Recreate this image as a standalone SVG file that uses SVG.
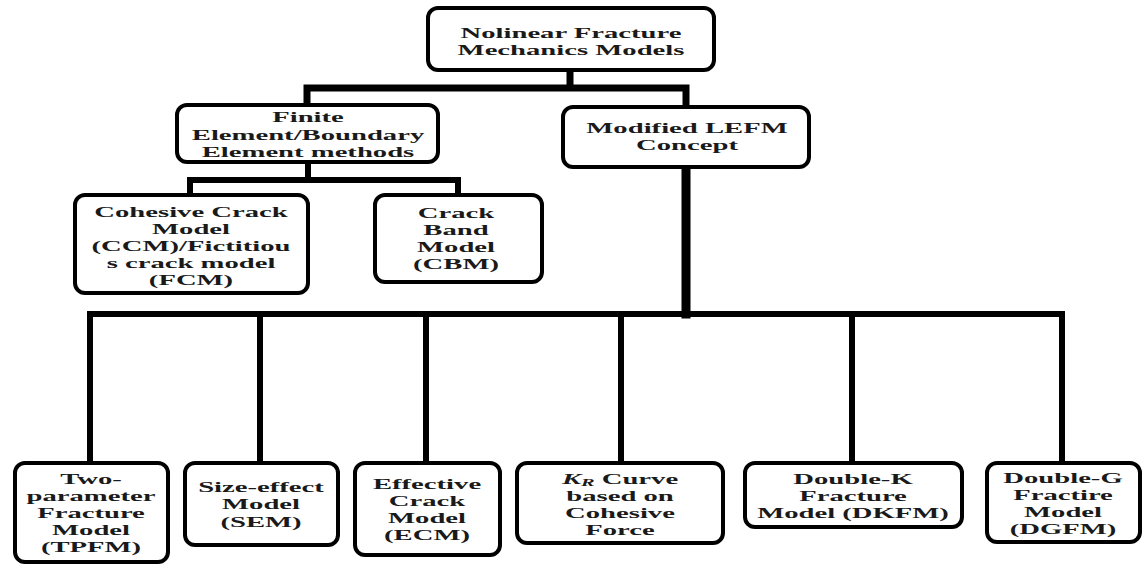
<svg xmlns="http://www.w3.org/2000/svg" width="1145" height="564" viewBox="0 0 1145 564">
<style>
.box{fill:#fff;stroke:#000;stroke-width:4}
.t{font-family:"Liberation Serif","Times New Roman",serif;font-weight:bold;font-size:15.5px;fill:#1a1a1a;text-anchor:middle}
.c{stroke:#000;fill:none;stroke-linecap:square}
</style>
<rect width="1145" height="564" fill="#fff"/>
<g id="connectors">
<path class="c" stroke-width="7" d="M570 70V88M307 88H686M307 88V105M686 88V107"/>
<path class="c" stroke-width="6" d="M308 162V180M190 180H458M190 180V195M458 180V195"/>
<path class="c" stroke-width="9" d="M686 167V314"/>
<path class="c" stroke-width="6" d="M90 314H1062M90 314V463M260 314V463M426 314V463M621 314V463M852 314V463M1062 314V463"/>
</g>
<g id="n_top"><rect class="box" x="428" y="8" width="286" height="62" rx="10"/>
<text class="t" transform="translate(571,38) scale(1.85,1)">Nolinear Fracture</text>
<text class="t" transform="translate(571,55) scale(1.85,1)">Mechanics Models</text></g>
<g id="n_fem"><rect class="box" x="177" y="105" width="261" height="57" rx="10"/>
<text class="t" transform="translate(308,122) scale(1.85,1)">Finite</text>
<text class="t" transform="translate(308,140) scale(1.85,1)">Element/Boundary</text>
<text class="t" transform="translate(308,157) scale(1.85,1)">Element methods</text></g>
<g id="n_lefm"><rect class="box" x="563" y="107" width="246" height="60" rx="10"/>
<text class="t" transform="translate(687,133) scale(1.85,1)">Modified LEFM</text>
<text class="t" transform="translate(687,150) scale(1.85,1)">Concept</text></g>
<g id="n_ccm"><rect class="box" x="75" y="195" width="233" height="98" rx="10"/>
<text class="t" transform="translate(191,217) scale(1.85,1)">Cohesive Crack</text>
<text class="t" transform="translate(191,234) scale(1.85,1)">Model</text>
<text class="t" transform="translate(191,251) scale(1.85,1)">(CCM)/Fictitiou</text>
<text class="t" transform="translate(191,268) scale(1.85,1)">s crack model</text>
<text class="t" transform="translate(191,285) scale(1.85,1)">(FCM)</text></g>
<g id="n_cbm"><rect class="box" x="375" y="195" width="167" height="87" rx="10"/>
<text class="t" transform="translate(456,218) scale(1.85,1)">Crack</text>
<text class="t" transform="translate(456,235) scale(1.85,1)">Band</text>
<text class="t" transform="translate(456,252) scale(1.85,1)">Model</text>
<text class="t" transform="translate(456,269) scale(1.85,1)">(CBM)</text></g>
<g id="n_tpfm"><rect class="box" x="15" y="463" width="153" height="99" rx="10"/>
<text class="t" transform="translate(91,484) scale(1.85,1)">Two-</text>
<text class="t" transform="translate(91,501) scale(1.85,1)">parameter</text>
<text class="t" transform="translate(91,518) scale(1.85,1)">Fracture</text>
<text class="t" transform="translate(91,535) scale(1.85,1)">Model</text>
<text class="t" transform="translate(91,552) scale(1.85,1)">(TPFM)</text></g>
<g id="n_sem"><rect class="box" x="185" y="463" width="153" height="82" rx="10"/>
<text class="t" transform="translate(261,492) scale(1.85,1)">Size-effect</text>
<text class="t" transform="translate(261,509) scale(1.85,1)">Model</text>
<text class="t" transform="translate(261,527) scale(1.85,1)">(SEM)</text></g>
<g id="n_ecm"><rect class="box" x="355" y="463" width="145" height="92" rx="10"/>
<text class="t" transform="translate(427,489) scale(1.85,1)">Effective</text>
<text class="t" transform="translate(427,506) scale(1.85,1)">Crack</text>
<text class="t" transform="translate(427,523) scale(1.85,1)">Model</text>
<text class="t" transform="translate(427,540) scale(1.85,1)">(ECM)</text></g>
<g id="n_kr"><rect class="box" x="517" y="463" width="206" height="80" rx="10"/>
<text class="t" transform="translate(620,484) scale(1.85,1)"><tspan font-style="italic">K</tspan><tspan font-style="italic" font-size="11" dy="2">R</tspan><tspan dy="-2"> Curve</tspan></text>
<text class="t" transform="translate(620,501) scale(1.85,1)">based on</text>
<text class="t" transform="translate(620,518) scale(1.85,1)">Cohesive</text>
<text class="t" transform="translate(620,535) scale(1.85,1)">Force</text></g>
<g id="n_dkfm"><rect class="box" x="745" y="463" width="217" height="64" rx="10"/>
<text class="t" transform="translate(853,484) scale(1.85,1)">Double-K</text>
<text class="t" transform="translate(853,501) scale(1.85,1)">Fracture</text>
<text class="t" transform="translate(853,518) scale(1.85,1)">Model (DKFM)</text></g>
<g id="n_dgfm"><rect class="box" x="987" y="463" width="153" height="79" rx="10"/>
<text class="t" transform="translate(1063,483) scale(1.85,1)">Double-G</text>
<text class="t" transform="translate(1063,500) scale(1.85,1)">Fractire</text>
<text class="t" transform="translate(1063,517) scale(1.85,1)">Model</text>
<text class="t" transform="translate(1063,534) scale(1.85,1)">(DGFM)</text></g>
</svg>
